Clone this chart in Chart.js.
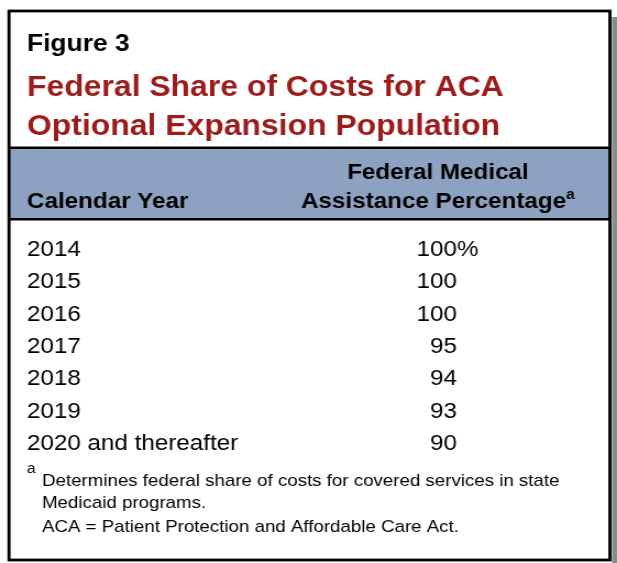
<!DOCTYPE html>
<html>
<head>
<meta charset="utf-8">
<script src="https://cdn.jsdelivr.net/npm/chart.js@4"></script>
<style>
    html, body { margin: 0; padding: 0; background: #fff; }
    #figure { width: 617px; height: 563px; }
</style>
</head>
<body>
<div id="figure">
    <canvas id="fmapTable" width="561" height="563" style="width:617px;height:563px"></canvas>
</div>
<script>
// Table data
const years = ['2014', '2015', '2016', '2017', '2018', '2019', '2020 and thereafter'];
const fmap = [100, 100, 100, 95, 94, 93, 90];

const figureLabel = 'Figure 3';
const titleLines = ['Federal Share of Costs for ACA', 'Optional Expansion Population'];
const headerLeft = 'Calendar Year';
const headerRight = ['Federal Medical', 'Assistance Percentage'];
const footnotes = [
    'Determines federal share of costs for covered services in state',
    'Medicaid programs.',
    'ACA = Patient Protection and Affordable Care Act.'
];

const FONT = '"Liberation Sans", Arial, Helvetica, sans-serif';
const RED = '#9c1c1c';
const BLUE = '#8da2c0';

// page is drawn 1.1x wider than the canvas bitmap
const sx = x => x / 1.1;

const framePlugin = {
    id: 'framePlugin',
    beforeDraw(chart) {
        const ctx = chart.ctx;
        ctx.save();
        ctx.fillStyle = '#fff';
        ctx.fillRect(0, 0, chart.width, chart.height);

        // drop shadow
        ctx.fillStyle = '#8c8c8c';
        ctx.fillRect(sx(612), 17, chart.width - sx(612), chart.height - 17);

        // header band
        ctx.fillStyle = BLUE;
        ctx.fillRect(sx(9), 148, sx(610) - sx(9), 71);
        ctx.fillStyle = '#000';
        ctx.fillRect(sx(9), 146.5, sx(610) - sx(9), 2.5);
        ctx.fillRect(sx(9), 218, sx(610) - sx(9), 2.5);

        // outer border
        ctx.strokeStyle = '#000';
        ctx.lineWidth = 2.8;
        ctx.strokeRect(sx(9), 11, sx(610) - sx(9), 549);

        // titles
        ctx.textBaseline = 'alphabetic';
        ctx.textAlign = 'left';
        ctx.fillStyle = '#000';
        ctx.font = `bold 24px ${FONT}`;
        ctx.fillText(figureLabel, sx(27), 51);

        ctx.fillStyle = RED;
        ctx.font = `bold 29px ${FONT}`;
        ctx.fillText(titleLines[0], sx(27), 96);
        ctx.fillText(titleLines[1], sx(27), 135);

        // column headers
        ctx.fillStyle = '#000';
        ctx.font = `bold 22px ${FONT}`;
        ctx.fillText(headerLeft, sx(27), 208);
        ctx.textAlign = 'center';
        ctx.fillText(headerRight[0], sx(438), 179);
        const w = ctx.measureText(headerRight[1]).width;
        ctx.fillText(headerRight[1], sx(438) - 4, 208);
        ctx.textAlign = 'left';
        ctx.font = `bold 14px ${FONT}`;
        ctx.fillText('a', sx(438) - 4 + w / 2, 199);
        ctx.restore();
    },
    afterDatasetsDraw(chart) {
        const ctx = chart.ctx;
        const meta = chart.getDatasetMeta(0);
        const xRight = sx(457);
        ctx.save();
        ctx.font = `22px ${FONT}`;
        ctx.fillStyle = '#000';
        ctx.textBaseline = 'middle';
        meta.data.forEach((bar, i) => {
            ctx.textAlign = 'right';
            ctx.fillText(String(fmap[i]), xRight, bar.y);
            if (i === 0) {
                ctx.textAlign = 'left';
                ctx.fillText('%', xRight, bar.y);
            }
        });

        // footnotes
        ctx.textBaseline = 'alphabetic';
        ctx.textAlign = 'left';
        ctx.font = `14px ${FONT}`;
        ctx.fillText('a', sx(27), 473);
        ctx.font = `17px ${FONT}`;
        ctx.fillText(footnotes[0], sx(42), 486);
        ctx.fillText(footnotes[1], sx(42), 508);
        ctx.fillText(footnotes[2], sx(42), 532);
        ctx.restore();
    }
};

const ctx = document.getElementById('fmapTable').getContext('2d');
new Chart(ctx, {
    type: 'bar',
    data: {
        labels: years,
        datasets: [{
            label: 'Federal Medical Assistance Percentage',
            data: fmap,
            backgroundColor: 'rgba(0,0,0,0)',
            borderWidth: 0
        }]
    },
    options: {
        responsive: false,
        animation: false,
        devicePixelRatio: 1,
        indexAxis: 'y',
        layout: { padding: { left: sx(27), right: 20, top: 234, bottom: 103 } },
        scales: {
            x: { display: false, min: 0, max: 100 },
            y: {
                grid: { display: false },
                border: { display: false },
                ticks: {
                    crossAlign: 'far',
                    color: '#000',
                    font: { family: FONT, size: 22 }
                }
            }
        },
        plugins: {
            legend: { display: false },
            tooltip: { enabled: false }
        }
    },
    plugins: [framePlugin]
});
</script>
</body>
</html>
